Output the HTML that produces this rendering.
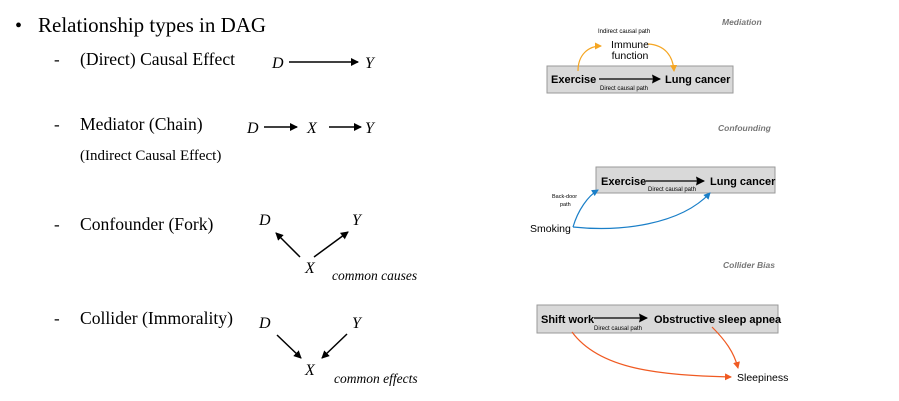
<!DOCTYPE html><html><head><style>body{margin:0;background:#fff}svg{display:block}</style></head><body>
<svg width="899" height="401" viewBox="0 0 899 401" xmlns="http://www.w3.org/2000/svg">
<defs>
<marker id="k" markerWidth="8" markerHeight="8" refX="7" refY="4" orient="auto" markerUnits="userSpaceOnUse"><path d="M0,0 L8,4 L0,8 Z" fill="#000"/></marker>
<marker id="ko" markerWidth="9" markerHeight="9" refX="8" refY="4.5" orient="auto" markerUnits="userSpaceOnUse"><path d="M0,0 L9,4.5 L0,9 L1,4.5 Z" fill="#000"/></marker>
<marker id="o" markerWidth="7" markerHeight="7" refX="6" refY="3.5" orient="auto" markerUnits="userSpaceOnUse"><path d="M0,0 L7,3.5 L0,7 Z" fill="#f5a623"/></marker>
<marker id="b" markerWidth="7" markerHeight="7" refX="6" refY="3.5" orient="auto" markerUnits="userSpaceOnUse"><path d="M0,0 L7,3.5 L0,7 Z" fill="#1a7fc8"/></marker>
<marker id="r" markerWidth="7" markerHeight="7" refX="6" refY="3.5" orient="auto" markerUnits="userSpaceOnUse"><path d="M0,0 L7,3.5 L0,7 Z" fill="#f05a22"/></marker>
</defs>
<g font-family="Liberation Serif, serif" fill="#000">
<text x="15" y="32" font-size="20">•</text>
<text x="38" y="32" font-size="21">Relationship types in DAG</text>
<text x="54" y="65" font-size="17">-</text><text x="80" y="65" font-size="17.6">(Direct) Causal Effect</text>
<text x="54" y="130" font-size="17">-</text><text x="80" y="130" font-size="17.6">Mediator (Chain)</text>
<text x="80" y="160" font-size="15">(Indirect Causal Effect)</text>
<text x="54" y="230" font-size="17">-</text><text x="80" y="230" font-size="17.6">Confounder (Fork)</text>
<text x="54" y="324" font-size="17">-</text><text x="80" y="324" font-size="17.6">Collider (Immorality)</text>
<g font-style="italic" font-size="16">
<text x="272" y="68">D</text><text x="365" y="68">Y</text>
<text x="247" y="133">D</text><text x="307" y="133">X</text><text x="365" y="133">Y</text>
<text x="259" y="225">D</text><text x="352" y="225">Y</text><text x="305" y="273">X</text>
<text x="259" y="328">D</text><text x="352" y="328">Y</text><text x="305" y="375">X</text>
</g>
<g font-style="italic" font-size="13.5"><text x="332" y="280">common causes</text><text x="334" y="383">common effects</text></g>
<g stroke="#000" stroke-width="1.5">
<line x1="289" y1="62" x2="358" y2="62" marker-end="url(#k)"/>
<line x1="264" y1="127" x2="297" y2="127" marker-end="url(#k)"/>
<line x1="329" y1="127" x2="361" y2="127" marker-end="url(#k)"/>
<line x1="300" y1="257" x2="276" y2="233" marker-end="url(#k)"/>
<line x1="314" y1="257" x2="348" y2="232" marker-end="url(#k)"/>
<line x1="277" y1="335" x2="301" y2="358" marker-end="url(#k)"/>
<line x1="347" y1="334" x2="322" y2="358" marker-end="url(#k)"/>
</g>
</g>
<g font-family="Liberation Sans, sans-serif">
<text x="722" y="25" font-size="8.5" font-style="italic" font-weight="bold" fill="#777">Mediation</text>
<rect x="547" y="66" width="186" height="27" fill="#d9d9d9" stroke="#999"/>
<text x="551" y="83" font-size="11" font-weight="bold">Exercise</text>
<line x1="599" y1="79" x2="660" y2="79" stroke="#000" stroke-width="1.3" marker-end="url(#ko)"/>
<text x="665" y="83" font-size="11" font-weight="bold">Lung cancer</text>
<text x="600" y="90" font-size="6">Direct causal path</text>
<text x="598" y="33" font-size="6">Indirect causal path</text>
<text x="630" y="48" font-size="10.5" text-anchor="middle">Immune</text><text x="630" y="59" font-size="10.5" text-anchor="middle">function</text>
<path d="M578,71 C578,55 588,46 601,46" fill="none" stroke="#f5a623" stroke-width="1.2" marker-end="url(#o)"/>
<path d="M648,44 C665,45 673,56 674,71" fill="none" stroke="#f5a623" stroke-width="1.2" marker-end="url(#o)"/>

<text x="718" y="131" font-size="8.5" font-style="italic" font-weight="bold" fill="#777">Confounding</text>
<rect x="596" y="167" width="179" height="26" fill="#d9d9d9" stroke="#999"/>
<text x="601" y="185" font-size="11" font-weight="bold">Exercise</text>
<line x1="646" y1="181" x2="704" y2="181" stroke="#000" stroke-width="1.3" marker-end="url(#ko)"/>
<text x="710" y="185" font-size="11" font-weight="bold">Lung cancer</text>
<text x="648" y="191" font-size="6">Direct causal path</text>
<text x="552" y="198" font-size="5.5">Back-door</text><text x="560" y="206" font-size="5.5">path</text>
<text x="530" y="232" font-size="10.5">Smoking</text>
<path d="M573,227 C578,210 588,196 598,190" fill="none" stroke="#1a7fc8" stroke-width="1.2" marker-end="url(#b)"/>
<path d="M573,227 C620,232 680,225 710,193" fill="none" stroke="#1a7fc8" stroke-width="1.2" marker-end="url(#b)"/>

<text x="723" y="268" font-size="8.5" font-style="italic" font-weight="bold" fill="#777">Collider Bias</text>
<rect x="537" y="305" width="241" height="28" fill="#d9d9d9" stroke="#999"/>
<text x="541" y="323" font-size="11" font-weight="bold">Shift work</text>
<line x1="594" y1="318" x2="647" y2="318" stroke="#000" stroke-width="1.3" marker-end="url(#ko)"/>
<text x="654" y="323" font-size="11" font-weight="bold">Obstructive sleep apnea</text>
<text x="594" y="330" font-size="6">Direct causal path</text>
<text x="737" y="381" font-size="10.5">Sleepiness</text>
<path d="M572,332 C600,370 660,375 731,377" fill="none" stroke="#f05a22" stroke-width="1.2" marker-end="url(#r)"/>
<path d="M712,327 C725,340 734,352 738,368" fill="none" stroke="#f05a22" stroke-width="1.2" marker-end="url(#r)"/>
</g>
</svg>
</body></html>
